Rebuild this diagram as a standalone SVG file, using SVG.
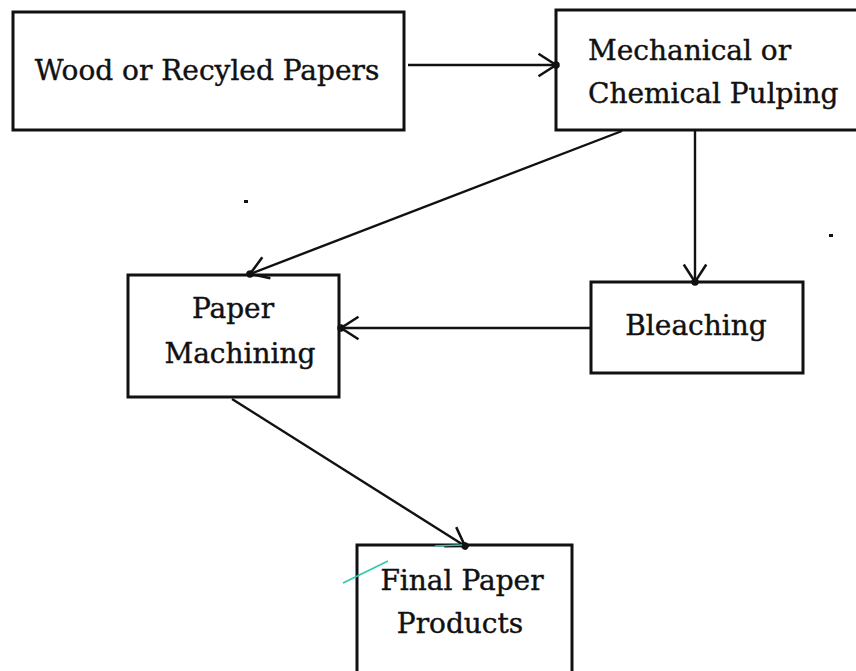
<svg xmlns="http://www.w3.org/2000/svg" width="856" height="671" viewBox="0 0 856 671">
<style>
.box{fill:#fff;stroke:#111;stroke-width:3}
.lbl{font-family:"DejaVu Serif","Liberation Serif",serif;font-size:28px;fill:#111;stroke:#111;stroke-width:0.4}
.c{fill:none;stroke:#111;stroke-width:2.4}
.stray{fill:none;stroke:#2cc9a8;stroke-width:1.5}
</style>
<defs>
<marker id="ah" markerUnits="userSpaceOnUse" markerWidth="30" markerHeight="30" refX="0" refY="0" viewBox="-16 -12 20 24" orient="auto">
<path d="M-14,-9 L0,0 L-14,9" fill="none" stroke="#111" stroke-width="2"/>
<circle cx="0" cy="0" r="3" fill="#111"/>
</marker>
</defs>
<rect width="856" height="671" fill="#fff"/>
<g id="wood"><rect class="box" x="13" y="12" width="391" height="118"/><text class="lbl" x="207" y="80" text-anchor="middle">Wood or Recyled Papers</text></g>
<g id="pulping"><rect class="box" x="556" y="10" width="310" height="120"/><text class="lbl" x="588" y="60">Mechanical or</text><text class="lbl" x="588" y="103">Chemical Pulping</text></g>
<g id="bleaching"><rect class="box" x="591" y="282" width="212" height="91"/><text class="lbl" x="696" y="335" text-anchor="middle">Bleaching</text></g>
<g id="machining"><rect class="box" x="128" y="275" width="211" height="122"/><text class="lbl" x="233" y="318" text-anchor="middle">Paper</text><text class="lbl" x="240" y="363" text-anchor="middle">Machining</text></g>
<g id="final"><rect class="box" x="357" y="545" width="215" height="140"/><text class="lbl" x="462" y="590" text-anchor="middle">Final Paper</text><text class="lbl" x="460" y="633" text-anchor="middle">Products</text></g>
<g id="connectors">
<line class="c" x1="408" y1="65" x2="556" y2="65" marker-end="url(#ah)"/>
<line class="c" x1="622" y1="131" x2="250" y2="274" marker-end="url(#ah)"/>
<line class="c" x1="695" y1="131" x2="695" y2="282" marker-end="url(#ah)"/>
<line class="c" x1="591" y1="328" x2="341" y2="328" marker-end="url(#ah)"/>
<line class="c" x1="232" y1="399" x2="465" y2="546" marker-end="url(#ah)"/>
</g>
<line class="stray" x1="343" y1="583" x2="388" y2="561"/>
<line class="stray" x1="435" y1="546" x2="462" y2="545"/>
<rect x="244" y="200" width="4" height="3" fill="#111"/>
<rect x="829" y="234" width="4" height="3" fill="#111"/>
</svg>
